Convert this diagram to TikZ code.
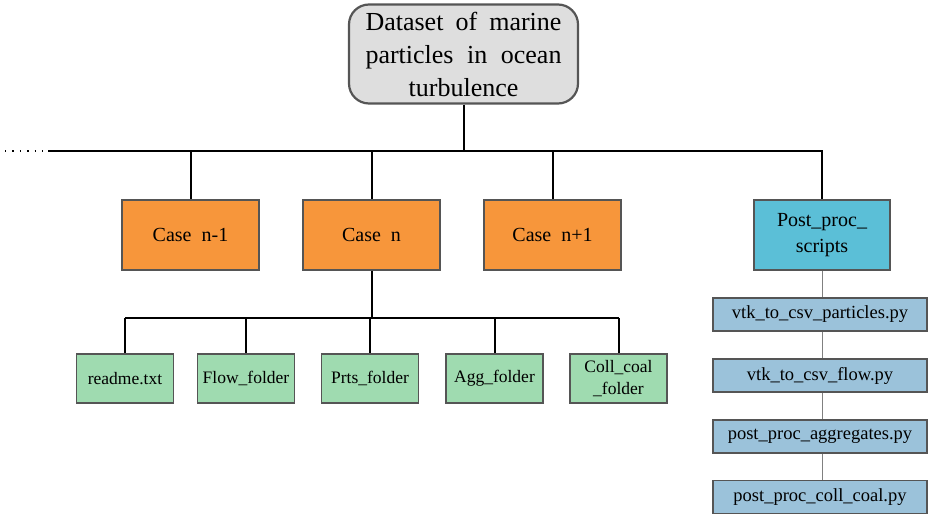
\documentclass[tikz,border=0pt]{standalone}
\usepackage{fontspec}
\setmainfont{Liberation Serif}
\definecolor{topfill}{HTML}{DEDEDE}
\definecolor{boxline}{HTML}{555555}
\definecolor{casefill}{HTML}{F7963B}
\definecolor{postfill}{HTML}{5BBFD7}
\definecolor{scriptfill}{HTML}{9BC2DA}
\definecolor{greenfill}{HTML}{9FDBB0}
\begin{document}
\begin{tikzpicture}[x=1pt,y=-1pt,
  base/.style={draw=boxline, line width=1.3pt, rectangle, inner sep=0pt, align=center},
  topbox/.style={base, line width=2.2pt, fill=topfill, rounded corners=20pt, minimum width=229pt, minimum height=99pt, font=\rmfamily\fontsize{26}{33}\selectfont},
  casebox/.style={base, fill=casefill, minimum width=137pt, minimum height=70pt, font=\rmfamily\fontsize{20}{26}\selectfont},
  postbox/.style={base, fill=postfill, minimum width=136pt, minimum height=70pt, font=\rmfamily\fontsize{20}{26}\selectfont},
  filebox/.style={base, fill=greenfill, minimum width=97pt, minimum height=49pt, font=\rmfamily\fontsize{17.5}{22}\selectfont},
  scriptbox/.style={base, fill=scriptfill, minimum width=214pt, minimum height=33pt, font=\rmfamily\fontsize{18.5}{22}\selectfont},
  trunk/.style={line width=2pt, black},
  thin/.style={line width=0.9pt, gray}
]
\useasboundingbox (0,0) rectangle (929,521);

\node[topbox] (top) at (463.5,54) {%
  \makebox[196pt][s]{Dataset of marine}\\
  \makebox[196pt][s]{particles in ocean}\\
  turbulence};

\node[casebox] (c1) at (190.5,235) {Case\ \ n-1};
\node[casebox] (c2) at (371.5,235) {Case\ \ n};
\node[casebox] (c3) at (552.5,235) {Case\ \ n+1};
\node[postbox] (post) at (822,235) {Post\_proc\_\\scripts};

\node[filebox] (f1) at (125,378.5) {readme.txt};
\node[filebox] (f2) at (246,378.5) {Flow\_folder};
\node[filebox] (f3) at (370,378.5) {Prts\_folder};
\node[filebox] (f4) at (494.5,378.5) {Agg\_folder};
\node[filebox] (f5) at (618.5,378.5) {Coll\_coal\\\_folder};

\node[scriptbox] (s1) at (820,314.5) {vtk\_to\_csv\_particles.py};
\node[scriptbox] (s2) at (820,375.5) {vtk\_to\_csv\_flow.py};
\node[scriptbox] (s3) at (820,436.5) {post\_proc\_aggregates.py};
\node[scriptbox] (s4) at (820,497) {post\_proc\_coll\_coal.py};

\coordinate (hl) at (48,151);
\coordinate (dl) at (5,151);
\coordinate (sl) at (122.5,318);

% main trunk
\draw[trunk] (top.south) -- (top.south |- hl);
\draw[trunk] (hl) -- (post.north |- hl) -- (post.north);
\draw[line width=1.3pt, dash pattern=on 1.4pt off 6pt] (dl) -- (hl);
\foreach \c in {c1,c2,c3}
  \draw[trunk] (\c.north |- hl) -- (\c.north);

% sub tree
\draw[trunk] (c2.south) -- (c2.south |- sl);
\draw[trunk] (f1.north |- sl) -- (f5.north |- sl);
\foreach \f in {f1,f2,f3,f4,f5}
  \draw[trunk] (\f.north |- sl) -- (\f.north);

% scripts chain
\draw[thin] (post.south) -- (post.south |- s1.north);
\draw[thin] (post.south |- s1.south) -- (post.south |- s2.north);
\draw[thin] (post.south |- s2.south) -- (post.south |- s3.north);
\draw[thin] (post.south |- s3.south) -- (post.south |- s4.north);
\end{tikzpicture}
\end{document}
